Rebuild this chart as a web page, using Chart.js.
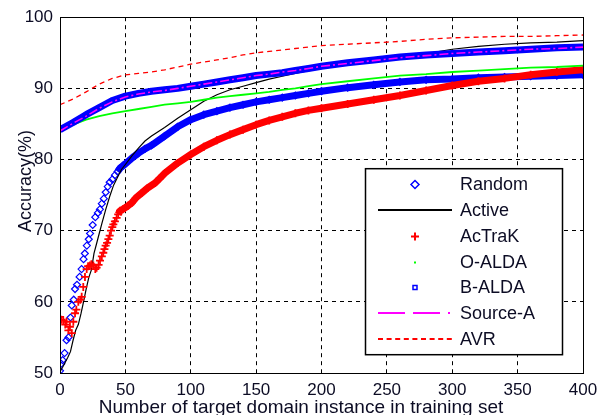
<!DOCTYPE html>
<html>
<head>
<meta charset="utf-8">
<title>Accuracy vs. target domain instances</title>
<script src="https://cdn.jsdelivr.net/npm/chart.js@4.4.1/dist/chart.umd.min.js"></script>
<style>
    html, body { margin: 0; padding: 0; background: #fff; }
    #acc-chart { display: block; }
</style>
</head>
<body>
<canvas id="acc-chart" width="609" height="415"></canvas>
<script>
/* global Chart */
(function (root) {
    'use strict';

    // tick labels
    var xTicks = [0, 50, 100, 150, 200, 250, 300, 350, 400];
    var yTicks = [50, 60, 70, 80, 90, 100];

    var seriesNames = ['Random', 'Active', 'AcTraK', 'O-ALDA', 'B-ALDA', 'Source-A', 'AVR'];

    // Random (blue diamonds)
    var randomX = [0, 1, 2, 3.5, 5, 6.5, 8, 9, 10.5, 11.5, 13, 15, 16.5, 18, 19, 20.5, 22, 23, 25, 27,
        29, 30.5, 32, 33.5, 35, 36.5, 38, 40, 42, 44, 46, 48, 50, 55, 60, 65, 70, 80, 90, 100,
        110, 120, 130, 140, 150, 160, 170, 180, 190, 200, 220, 240, 260, 280, 300, 320, 340, 360, 380, 400];
    var randomY = [50.3, 51.3, 51.8, 52.8, 54.6, 55.0, 57.8, 59.5, 60.3, 61.8, 62.4, 63.5, 64.6, 66.0, 66.8, 67.9, 68.8, 69.6, 70.8, 71.9,
        72.5, 73.0, 73.8, 74.5, 75.4, 76.2, 76.8, 77.2, 77.8, 78.3, 78.8, 79.1, 79.4, 80.2, 80.9, 81.5, 82.0, 83.3, 84.6, 85.6,
        86.3, 86.8, 87.3, 87.7, 88.1, 88.4, 88.7, 89.0, 89.3, 89.6, 90.1, 90.5, 90.9, 91.2, 91.3, 91.5, 91.6, 91.7, 91.8, 91.9];

    // Active (black line)
    var activeX = [0, 2, 4, 6, 8, 10, 12, 14, 16, 18, 20, 22, 24, 26, 28, 30, 32, 35, 38, 41,
        44, 47, 50, 55, 60, 65, 70, 75, 80, 90, 100, 110, 120, 130, 140, 150, 160, 170, 180, 190,
        200, 220, 240, 260, 280, 300, 320, 340, 360, 380, 400];
    var activeY = [50.2, 50.8, 51.5, 52.2, 53.0, 54.6, 56.0, 56.8, 58.3, 60.0, 61.8, 63.4, 64.5, 66.8, 68.2, 69.6, 71.0, 73.0, 74.8, 76.4,
        77.5, 78.6, 79.3, 80.5, 81.6, 82.6, 83.3, 83.9, 84.5, 85.8, 87.0, 88.2, 89.1, 89.8, 90.3, 90.8, 91.3, 91.7, 92.1, 92.5,
        92.8, 93.3, 93.8, 94.4, 94.9, 95.5, 95.9, 96.2, 96.4, 96.5, 96.7];

    // AcTraK (red plus)
    var actrakX = [0, 1, 2.5, 4, 5, 6.4, 7.6, 9, 10.2, 11.5, 12.5, 14, 15.5, 16.6, 17.8, 19.1, 20.4, 21.5, 22.9, 24,
        25.5, 27, 28, 29.5, 30.6, 32, 33.1, 34, 34.9, 36, 37, 38, 39, 40, 40.8, 42, 43.3, 44.5, 45.9, 48,
        49.7, 52, 54.8, 58, 62.5, 67, 72.7, 76, 80.3, 90, 100, 110, 120, 130, 140, 150, 160, 170, 180, 190,
        200, 220, 240, 260, 280, 300, 320, 340, 360, 380, 400];
    var actrakY = [57.9, 57.5, 57.4, 56.8, 57.2, 56.0, 56.5, 55.6, 57.2, 58.4, 58.9, 60.0, 60.3, 60.7, 62.1, 63.5, 64.6, 65.0, 65.1, 65.3,
        65.1, 64.6, 64.8, 65.2, 65.8, 66.4, 66.9, 67.4, 67.9, 68.3, 68.8, 69.3, 70.0, 70.5, 70.9, 71.3, 71.8, 72.3, 72.8, 73.0,
        73.2, 73.5, 73.9, 74.6, 75.3, 76.0, 76.7, 77.3, 78.1, 79.5, 80.7, 81.8, 82.7, 83.5, 84.2, 84.9, 85.5, 86.0, 86.5, 86.9,
        87.2, 87.8, 88.4, 89.0, 89.7, 90.4, 91.0, 91.4, 91.9, 92.3, 92.6];

    // shared x for the smooth curves
    var stepX = [0, 10, 20, 30, 40, 50, 60, 70, 80, 90, 100, 110, 120, 130, 140, 150, 160, 170, 180, 190, 200,
        220, 240, 260, 280, 300, 320, 340, 360, 380, 400];
    var oAldaY = [84.0, 84.9, 85.6, 86.1, 86.5, 86.8, 87.1, 87.4, 87.7, 87.9, 88.1, 88.4, 88.7, 88.9, 89.1, 89.3, 89.5, 89.8, 90.0, 90.3, 90.6,
        91.0, 91.4, 91.8, 92.0, 92.3, 92.5, 92.7, 92.9, 93.0, 93.2];
    var bAldaY = [84.2, 85.2, 86.3, 87.3, 88.3, 88.9, 89.3, 89.6, 89.8, 90.0, 90.3, 90.6, 90.9, 91.2, 91.5, 91.8, 92.0, 92.2, 92.5, 92.8, 93.1,
        93.6, 94.0, 94.4, 94.7, 94.9, 95.1, 95.3, 95.5, 95.7, 95.8];
    var sourceAY = [84.0, 85.1, 86.1, 87.2, 88.1, 88.8, 89.2, 89.5, 89.7, 90.0, 90.3, 90.6, 90.9, 91.2, 91.5, 91.8, 92.0, 92.3, 92.5, 92.8, 93.1,
        93.5, 93.9, 94.3, 94.6, 94.9, 95.1, 95.3, 95.5, 95.6, 95.8];
    var avrY = [87.7, 88.5, 89.5, 90.6, 91.4, 91.9, 92.1, 92.3, 92.6, 93.0, 93.4, 93.7, 94.0, 94.3, 94.7, 95.0, 95.2, 95.4, 95.6, 95.8, 96.0,
        96.2, 96.4, 96.6, 96.9, 97.1, 97.2, 97.3, 97.3, 97.4, 97.5];

    var BLUE = '#0000ff', RED = '#ff0000', GREEN = '#00ff00', MAGENTA = '#ff00ff', BLACK = '#000000', NONE = 'rgba(0,0,0,0)';
    var TEXT = '#0c0c24';
    var FONT = '"Liberation Sans", Arial, sans-serif';

    function pts(xs, ys) {
        return xs.map(function (x, i) { return { x: x, y: ys[i] }; });
    }

    // scattered markers first, dense band afterwards
    function bandFrom(x0, color) {
        return function (c) { return c.p0.parsed.x < x0 ? NONE : color; };
    }

    // what the legend box shows for each series
    var legendSpec = [
        { color: BLUE, marker: 'diamond' },
        { color: BLACK, dash: [74] },
        { color: RED, marker: 'plus' },
        { color: GREEN, marker: 'dot' },
        { color: BLUE, marker: 'square' },
        { color: MAGENTA, dash: [27, 8, 27, 8, 2] },
        { color: RED, dash: [5, 3.6] }
    ];

    var datasets = [
        { label: seriesNames[0], data: pts(randomX, randomY), order: 7, borderColor: BLUE, borderWidth: 7,
            borderJoinStyle: 'round', segment: { borderColor: bandFrom(44, BLUE) },
            pointStyle: 'rectRot', pointRadius: 3.5, pointBorderColor: BLUE, pointBackgroundColor: NONE, pointBorderWidth: 1.2 },
        { label: seriesNames[1], data: pts(activeX, activeY), order: 6, borderColor: BLACK, borderWidth: 1.2, pointRadius: 0 },
        { label: seriesNames[2], data: pts(actrakX, actrakY), order: 5, borderColor: RED, borderWidth: 7,
            borderJoinStyle: 'round', segment: { borderColor: bandFrom(44, RED) },
            pointStyle: 'cross', pointRadius: 4, pointBorderColor: RED, pointBorderWidth: 1.8 },
        { label: seriesNames[3], data: pts(stepX, oAldaY), order: 4, borderColor: GREEN, borderWidth: 1.8, pointRadius: 0 },
        { label: seriesNames[4], data: pts(stepX, bAldaY), order: 3, borderColor: BLUE, borderWidth: 7,
            borderJoinStyle: 'round', pointStyle: 'rect', pointRadius: 3, pointBorderColor: BLUE,
            pointBackgroundColor: NONE, pointBorderWidth: 1 },
        { label: seriesNames[5], data: pts(stepX, sourceAY), order: 2, borderColor: MAGENTA, borderWidth: 1.6,
            borderDash: [9, 3, 2, 3], pointRadius: 0 },
        { label: seriesNames[6], data: pts(stepX, avrY), order: 1, borderColor: RED, borderWidth: 1.3,
            borderDash: [5, 4], pointRadius: 0 }
    ];

    function gridColor(lo, hi) {
        return function (c) {
            if (c.tick && (c.tick.value === lo || c.tick.value === hi)) { return NONE; }
            return BLACK;
        };
    }

    function drawMarker(ctx, kind, x, y, color) {
        ctx.save();
        ctx.strokeStyle = color;
        ctx.fillStyle = color;
        ctx.lineWidth = 1.5;
        ctx.beginPath();
        if (kind === 'diamond') {
            ctx.moveTo(x, y - 4); ctx.lineTo(x + 4, y); ctx.lineTo(x, y + 4); ctx.lineTo(x - 4, y);
            ctx.closePath(); ctx.stroke();
        } else if (kind === 'plus') {
            ctx.lineWidth = 2;
            ctx.moveTo(x - 4, y); ctx.lineTo(x + 4, y); ctx.moveTo(x, y - 4); ctx.lineTo(x, y + 4);
            ctx.stroke();
        } else if (kind === 'dot') {
            ctx.fillRect(x - 1, y - 1, 2, 2);
        } else if (kind === 'square') {
            ctx.strokeRect(x - 2, y - 2, 4, 4);
        }
        ctx.restore();
    }

    // 2px dashed sample line, drawn as filled runs
    function drawSample(ctx, x0, x1, y, dash, color) {
        var x = x0, k = 0;
        ctx.save();
        ctx.fillStyle = color;
        while (x < x1) {
            var len = dash[k % dash.length];
            if (k % 2 === 0) { ctx.fillRect(x, y - 1, Math.min(len, x1 - x), 2); }
            x += len;
            k++;
        }
        ctx.restore();
    }

    var framePlugin = {
        id: 'matlabFrame',
        afterDraw: function (chart) {
            var ctx = chart.ctx, a = chart.chartArea;
            ctx.save();
            // axes box
            ctx.strokeStyle = BLACK;
            ctx.lineWidth = 1;
            ctx.strokeRect(Math.round(a.left) + 0.5, Math.round(a.top) + 0.5,
                Math.round(a.right - a.left), Math.round(a.bottom - a.top));

            // axis titles
            ctx.fillStyle = TEXT;
            ctx.font = '19px ' + FONT;
            ctx.textAlign = 'center';
            ctx.textBaseline = 'alphabetic';
            ctx.fillText('Number of target domain instance in training set', 301, 413);
            ctx.save();
            ctx.translate(31, 181);
            ctx.rotate(-Math.PI / 2);
            ctx.font = '18px ' + FONT;
            ctx.fillText('Accuracy(%)', 0, 0);
            ctx.restore();

            // legend
            var bx = a.right - 218, by = a.top + 151, bw = 197, bh = 186;
            ctx.fillStyle = '#ffffff';
            ctx.fillRect(bx, by, bw, bh);
            ctx.strokeStyle = BLACK;
            ctx.lineWidth = 1.5;
            ctx.strokeRect(bx + 0.5, by + 0.5, bw, bh);
            ctx.font = '18px ' + FONT;
            ctx.textAlign = 'left';
            ctx.textBaseline = 'middle';
            chart.data.datasets.forEach(function (ds, i) {
                var y = Math.round(by + 16 + i * 25.8);
                var lg = legendSpec[i];
                if (lg.dash) { drawSample(ctx, bx + 13, bx + 87, y, lg.dash, lg.color); }
                if (lg.marker) { drawMarker(ctx, lg.marker, bx + 50, y + 0.5, lg.color); }
                ctx.fillStyle = TEXT;
                ctx.fillText(ds.label, bx + 95, y + 1);
            });
            ctx.restore();
        }
    };

    function initAccuracyChart() {
        var el = document.getElementById('acc-chart');
        if (!el || typeof Chart === 'undefined') { return null; }
        return new Chart(el, {
            type: 'line',
            data: { datasets: datasets },
            options: {
                responsive: false,
                animation: false,
                events: [],
                layout: { padding: { top: 15, right: 26, left: 0, bottom: 0 } },
                plugins: { legend: { display: false }, tooltip: { enabled: false } },
                scales: {
                    x: {
                        type: 'linear', min: 0, max: 400,
                        afterBuildTicks: function (s) { s.ticks = xTicks.map(function (v) { return { value: v }; }); },
                        afterFit: function (s) { s.height = 42; },
                        ticks: { color: TEXT, padding: 7, maxRotation: 0, autoSkip: false, font: { family: FONT, size: 17 } },
                        grid: { drawTicks: false, color: gridColor(0, 400), lineWidth: 1 },
                        border: { display: false, dash: [4, 4] }
                    },
                    y: {
                        type: 'linear', min: 50, max: 100,
                        afterBuildTicks: function (s) { s.ticks = yTicks.map(function (v) { return { value: v }; }); },
                        afterFit: function (s) { s.width = 60; },
                        ticks: { color: TEXT, padding: 7, font: { family: FONT, size: 17 } },
                        grid: { drawTicks: false, color: gridColor(50, 100), lineWidth: 1 },
                        border: { display: false, dash: [4, 4] }
                    }
                }
            },
            plugins: [framePlugin]
        });
    }

    root.accChart = initAccuracyChart();
})(window);
</script>
</body>
</html>
